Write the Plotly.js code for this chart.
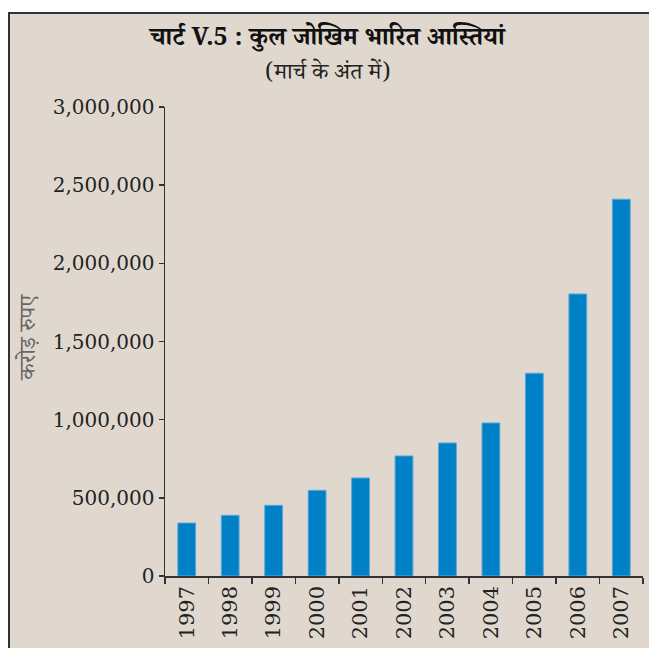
<!DOCTYPE html>
<html>
<head>
<meta charset="utf-8">
<script src="https://cdn.plot.ly/plotly-3.0.1.min.js"></script>
<style>
html,body{margin:0;padding:0;background:#ffffff;width:649px;height:648px;overflow:hidden;}
#frame{position:absolute;left:8px;top:12px;width:641px;height:636px;border-left:2px solid #333;border-top:2px solid #333;background:#e0d8ce;}
#chart{width:639px;height:634px;}
</style>
</head>
<body>
<div id="frame"><div id="chart"></div></div>
<script>
const years = ["1997","1998","1999","2000","2001","2002","2003","2004","2005","2006","2007"];
const riskWeightedAssets = [339000, 388000, 452000, 548000, 627000, 768000, 851000, 979000, 1297000, 1804000, 2410000];
const yTickValues = [0, 500000, 1000000, 1500000, 2000000, 2500000, 3000000];
const titleText = "चार्ट V.5 : कुल जोखिम भारित आस्तियां";
const subtitleText = "(मार्च के अंत में)";
const yAxisTitle = "करोड़ रुपए";

const serif = "DejaVu Serif, Liberation Serif, serif";
const deva = "Noto Serif Devanagari, Noto Sans Devanagari, Lohit Devanagari, Noto Sans, sans-serif";

const trace = {
  type: "bar",
  x: years,
  y: riskWeightedAssets,
  marker: {color: "#0080c6", line: {color: "#5aa8d8", width: 1}},
  hoverinfo: "none"
};

const layout = {
  width: 639, height: 634,
  paper_bgcolor: "#e0d8ce",
  plot_bgcolor: "#e0d8ce",
  margin: {l: 155, r: 6, t: 93, b: 72},
  bargap: 0.59,
  showlegend: false,
  font: {family: serif, color: "#222", size: 20},
  xaxis: {
    type: "category",
    tickangle: -90,
    tickson: "boundaries",
    ticks: "outside", ticklen: 6, tickcolor: "#333", tickwidth: 1.5,
    showline: true, linecolor: "#333", linewidth: 1.5,
    showgrid: false, zeroline: false,
    tickfont: {family: serif, size: 21, color: "#222"}
  },
  yaxis: {
    range: [0, 3000000],
    tickvals: yTickValues,
    tickformat: ",d",
    ticks: "outside", ticklen: 5, tickcolor: "#333", tickwidth: 1.5,
    showline: true, linecolor: "#333", linewidth: 1.5,
    showgrid: false, zeroline: false,
    tickfont: {family: serif, size: 20, color: "#222"}
  },
  annotations: [
    {text: "<b>" + titleText + "</b>", xref: "paper", yref: "paper", x: 0.341, y: 1, yshift: 66, xanchor: "center", yanchor: "middle", showarrow: false, font: {family: deva, size: 25, color: "#111"}},
    {text: subtitleText, xref: "paper", yref: "paper", x: 0.341, y: 1, yshift: 32, xanchor: "center", yanchor: "middle", showarrow: false, font: {family: deva, size: 23, color: "#222"}},
    {text: yAxisTitle, xref: "paper", yref: "paper", x: 0, xshift: -133, y: 0.51, xanchor: "center", yanchor: "middle", textangle: -90, showarrow: false, font: {family: deva, size: 23, color: "#666"}}
  ]
};

Plotly.newPlot("chart", [trace], layout, {displayModeBar: false, staticPlot: true});
</script>
</body>
</html>
